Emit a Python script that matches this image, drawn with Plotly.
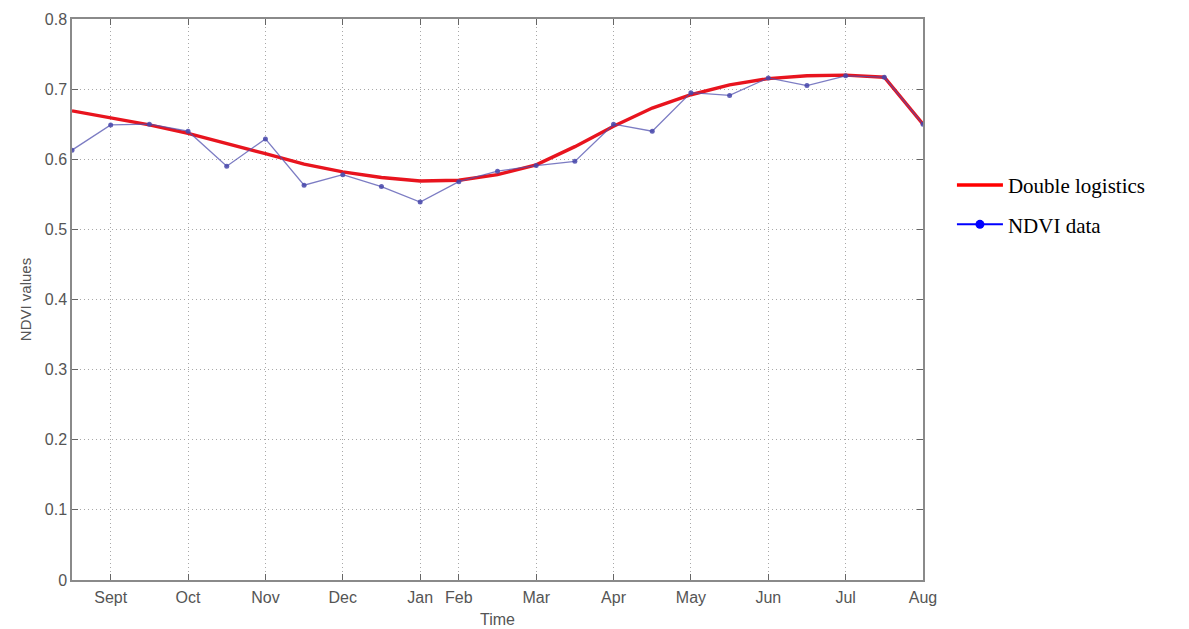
import plotly.graph_objects as go

# 16-day composite index (23 composites over the season, Aug to Aug)
composite = list(range(23))

# Month tick positions on the composite index axis
month_pos = [1, 3, 5, 7, 9, 10, 12, 14, 16, 18, 20, 22]
month_labels = ["Sept", "Oct", "Nov", "Dec", "Jan", "Feb", "Mar", "Apr", "May", "Jun", "Jul", "Aug"]

# Observed NDVI per composite
ndvi_data = [0.613, 0.649, 0.650, 0.640, 0.590, 0.629, 0.563, 0.578, 0.561, 0.539,
             0.568, 0.583, 0.591, 0.597, 0.650, 0.640, 0.695, 0.691, 0.716, 0.705,
             0.719, 0.717, 0.650]

# Double logistic fit per composite
double_logistic = [0.669, 0.659, 0.649, 0.637, 0.623, 0.608, 0.593, 0.582, 0.574, 0.569,
                   0.570, 0.578, 0.592, 0.618, 0.647, 0.673, 0.692, 0.706, 0.715, 0.719,
                   0.720, 0.717, 0.650]

fig = go.Figure()

fig.add_trace(go.Scatter(
    x=composite, y=double_logistic, mode="lines",
    line=dict(color="#e8141e", width=3.4),
    showlegend=False, hoverinfo="skip",
))
fig.add_trace(go.Scatter(
    x=composite, y=ndvi_data, mode="lines+markers",
    line=dict(color="rgba(80,80,175,0.75)", width=1.3),
    marker=dict(color="rgba(70,70,170,0.85)", size=5),
    showlegend=False,
))

# Legend entries
fig.add_trace(go.Scatter(
    x=[None], y=[None], mode="lines", name="Double logistics",
    line=dict(color="#ff0000", width=3.5), legendgroup="fit",
))
fig.add_trace(go.Scatter(
    x=[None], y=[None], mode="lines+markers", name="NDVI data",
    line=dict(color="#0000ff", width=2), marker=dict(color="#0000ff", size=9),
    legendgroup="obs",
))

axis_font = dict(family="Liberation Sans, Arial, sans-serif", size=16, color="#555555")
grid_style = dict(showgrid=True, gridcolor="#a8a8a8", griddash="1px,3px", gridwidth=1)
frame_style = dict(showline=True, linecolor="#8a8a8a", linewidth=1.5, mirror="ticks",
                   ticks="inside", ticklen=6, tickcolor="#666666", zeroline=False,
                   automargin=False)

fig.update_layout(
    width=1189, height=629,
    margin=dict(l=72, r=266, t=19, b=49),
    paper_bgcolor="white", plot_bgcolor="white",
    legend=dict(
        x=1.034, y=0.74, xanchor="left", yanchor="top",
        font=dict(family="Liberation Serif, Times New Roman, serif", size=21, color="black"),
        bgcolor="rgba(0,0,0,0)", tracegroupgap=9, itemwidth=46,
    ),
    xaxis=dict(
        range=[0, 22], tickmode="array", tickvals=month_pos, ticktext=month_labels,
        tickfont=axis_font, ticklabelstandoff=2,
        title=dict(text="Time", font=dict(family="Liberation Sans, Arial, sans-serif", size=16, color="#555555"), standoff=9),
        **grid_style, **frame_style,
    ),
    yaxis=dict(
        range=[0, 0.8], dtick=0.1, tick0=0,
        tickfont=axis_font,
        title=dict(text="NDVI values", font=dict(family="Liberation Sans, Arial, sans-serif", size=15, color="#555555"), standoff=10),
        **grid_style, **frame_style,
    ),
)

fig.write_html("out.html")
